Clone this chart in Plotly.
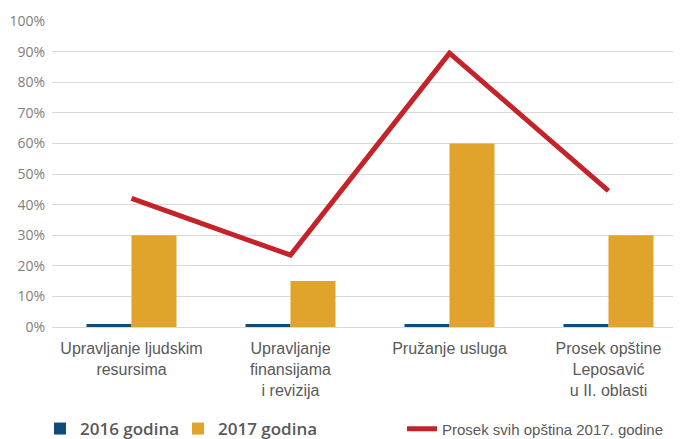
import plotly.graph_objects as go

categories = [
    "Upravljanje ljudskim<br>resursima",
    "Upravljanje<br>finansijama<br>i revizija",
    "Pružanje usluga",
    "Prosek opštine<br>Leposavić<br>u II. oblasti",
]
values_2016 = [0.01, 0.01, 0.01, 0.01]
values_2017 = [0.30, 0.15, 0.60, 0.30]
prosek_2017 = [0.42, 0.235, 0.895, 0.445]

BLUE = "#0F4C7C"
GOLD = "#E0A42C"
RED = "#C5232A"
GRAY_TXT = "#595959"
NARROW = "Liberation Sans Narrow, Arial Narrow, Liberation Sans, sans-serif"

W, H = 673, 431  # page has an 8px body margin

fig = go.Figure()
fig.add_trace(go.Bar(x=categories, y=values_2016, name="2016 godina",
                     marker=dict(color=BLUE, line=dict(width=0)), legend="legend"))
fig.add_trace(go.Bar(x=categories, y=values_2017, name="2017 godina",
                     marker=dict(color=GOLD, line=dict(width=0)), legend="legend2"))
fig.add_trace(go.Scatter(x=categories, y=prosek_2017, name="Prosek svih opština 2017. godine",
                         mode="lines", line=dict(color=RED, width=5), legend="legend3"))

legend_common = dict(orientation="h", xref="container", yref="container",
                     yanchor="middle", xanchor="left", bgcolor="rgba(0,0,0,0)",
                     borderwidth=0)
LY = 1 - 421 / H

fig.update_layout(
    width=W, height=H,
    margin=dict(l=44, r=0, t=13, b=112, autoexpand=False),
    paper_bgcolor="white", plot_bgcolor="white",
    barmode="group", bargap=0.434, bargroupgap=0,
    showlegend=True,
    legend=dict(**legend_common, x=32/W, y=LY,
                font=dict(family="Open Sans, sans-serif", size=17, color=GRAY_TXT, weight=600)),
    legend2=dict(**legend_common, x=170/W, y=LY,
                 font=dict(family="Open Sans, sans-serif", size=17, color=GRAY_TXT, weight=600)),
    legend3=dict(**legend_common, x=394/W, y=LY,
                 font=dict(family=NARROW, size=15, color=GRAY_TXT)),
    xaxis=dict(range=[-0.5, 3.456], showgrid=False, zeroline=False, showline=False,
               ticks="", tickfont=dict(family=NARROW, size=16, color=GRAY_TXT),
               ticklabelstandoff=10, fixedrange=True),
    yaxis=dict(range=[0, 1.0], dtick=0.1, tickformat=".0%", showgrid=True,
               gridcolor="#D9D9D9", gridwidth=1.4, zeroline=True, zerolinecolor="#D9D9D9",
               zerolinewidth=1.4, showline=False, ticks="",
               tickfont=dict(family="Open Sans, sans-serif", size=14, color="#808080"),
               ticklabelstandoff=6, fixedrange=True),
)

fig.write_html("out.html")
